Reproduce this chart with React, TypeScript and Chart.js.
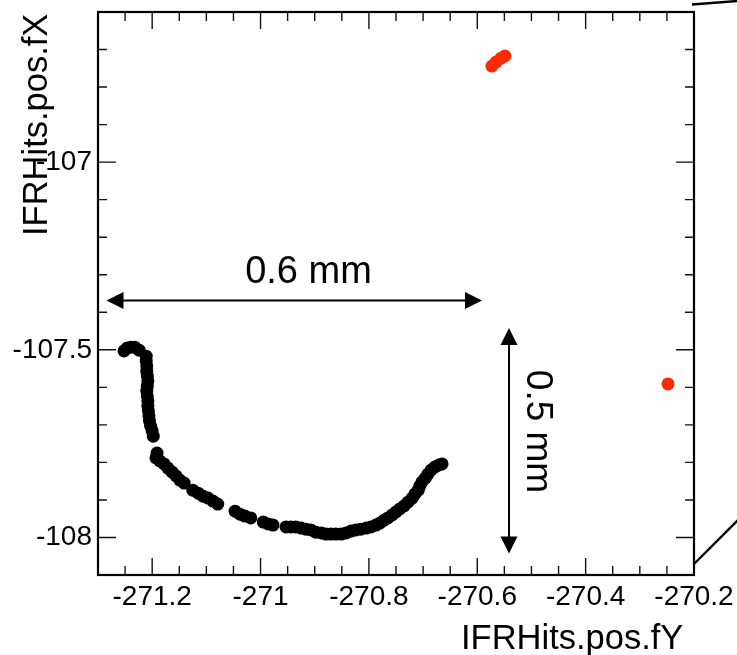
import React, { useEffect, useRef } from 'react';
import { Chart, registerables } from 'chart.js';

Chart.register(...registerables);

// ---- axis ranges & ticks ----
const X_MIN = -271.3;
const X_MAX = -270.2;
const Y_MIN = -108.1;
const Y_MAX = -106.6;
const xTickValues = [-271.2, -271.0, -270.8, -270.6, -270.4, -270.2];
const yTickValues = [-108.0, -107.5, -107.0];
const xMinorStep = 0.05;
const yMinorStep = 0.1;

const xTitle = 'IFRHits.pos.fY';
const yTitle = 'IFRHits.pos.fX';
const hLabel = '0.6 mm';
const vLabel = '0.5 mm';

// ---- data: black track ----
const blackX = [
  -271.252, -271.246, -271.239, -271.232, -271.224,
  -271.211, -271.211, -271.210, -271.210, -271.209, -271.208, -271.209, -271.210,
  -271.209, -271.208, -271.208, -271.207, -271.206, -271.205, -271.203, -271.200, -271.198,
  -271.191, -271.193, -271.186, -271.178, -271.171, -271.163, -271.156, -271.149, -271.141,
  -271.125, -271.115, -271.106, -271.097, -271.088, -271.079,
  -271.047, -271.038, -271.029, -271.018,
  -270.995, -270.986, -270.977,
  -270.953, -270.944, -270.935, -270.925, -270.916, -270.907, -270.898, -270.888, -270.879,
  -270.870, -270.861, -270.851, -270.842, -270.833, -270.824, -270.815, -270.805, -270.796,
  -270.787, -270.780, -270.772, -270.765, -270.757, -270.750, -270.743, -270.735, -270.728,
  -270.720, -270.715, -270.709, -270.706, -270.702, -270.696, -270.691, -270.685, -270.678,
  -270.671, -270.665,
];
const blackY = [
  -107.503, -107.495, -107.493, -107.493, -107.501,
  -107.517, -107.530, -107.543, -107.557, -107.570, -107.583, -107.597, -107.610,
  -107.623, -107.636, -107.650, -107.663, -107.676, -107.690, -107.703, -107.716, -107.730,
  -107.775, -107.788, -107.796, -107.804, -107.815, -107.826, -107.836, -107.847, -107.855,
  -107.874, -107.882, -107.890, -107.895, -107.903, -107.911,
  -107.930, -107.938, -107.943, -107.948,
  -107.959, -107.964, -107.967,
  -107.972, -107.972, -107.972, -107.975, -107.978, -107.980, -107.986, -107.988, -107.991,
  -107.991, -107.991, -107.991, -107.988, -107.983, -107.980, -107.978, -107.975, -107.972,
  -107.967, -107.962, -107.954, -107.948, -107.940, -107.932, -107.924, -107.916, -107.906,
  -107.895, -107.884, -107.874, -107.863, -107.852, -107.842, -107.831, -107.820, -107.812,
  -107.807, -107.804,
];

// ---- data: red hits ----
const redX = [-270.573, -270.565, -270.556, -270.549, -270.248];
const redY = [-106.744, -106.733, -106.723, -106.717, -107.591];

const FONT = "'Liberation Sans', Arial, Helvetica, sans-serif";

const toPts = (xs: number[], ys: number[]) => xs.map((x, i) => ({ x, y: ys[i] }));

const fmt = (v: number) => String(Number(v.toFixed(2)));

const framePlugin = {
  id: 'rootFrame',
  beforeDatasetsDraw(chart: any) {
    const { ctx, chartArea: a, scales } = chart;
    const xs = scales.x;
    const ys = scales.y;
    ctx.save();
    ctx.strokeStyle = '#111';
    ctx.lineWidth = 1.4;
    ctx.beginPath();
    const nX = Math.round((X_MAX - X_MIN) / xMinorStep);
    for (let i = 0; i <= nX; i++) {
      const v = X_MIN + i * xMinorStep;
      const major = xTickValues.some((t) => Math.abs(t - v) < 1e-6);
      const len = major ? 17 : 9;
      const px = xs.getPixelForValue(v);
      ctx.moveTo(px, a.bottom);
      ctx.lineTo(px, a.bottom - len);
      ctx.moveTo(px, a.top);
      ctx.lineTo(px, a.top + len);
    }
    const nY = Math.round((Y_MAX - Y_MIN) / yMinorStep);
    for (let i = 0; i <= nY; i++) {
      const v = Y_MIN + i * yMinorStep;
      const major = yTickValues.some((t) => Math.abs(t - v) < 1e-6);
      const len = major ? 18 : 9;
      const py = ys.getPixelForValue(v);
      ctx.moveTo(a.left, py);
      ctx.lineTo(a.left + len, py);
      ctx.moveTo(a.right, py);
      ctx.lineTo(a.right - len, py);
    }
    ctx.stroke();
    ctx.strokeStyle = '#000';
    ctx.lineWidth = 2.2;
    ctx.strokeRect(a.left, a.top, a.right - a.left, a.bottom - a.top);
    ctx.restore();
  },
  afterDraw(chart: any) {
    const { ctx } = chart;
    ctx.save();
    ctx.fillStyle = '#000';
    ctx.strokeStyle = '#000';

    // axis titles
    ctx.font = `34.5px ${FONT}`;
    ctx.textAlign = 'left';
    ctx.textBaseline = 'alphabetic';
    ctx.fillText(xTitle, 461, 649);
    ctx.save();
    ctx.translate(47, 236);
    ctx.rotate(-Math.PI / 2);
    ctx.fillText(yTitle, 0, 0);
    ctx.restore();

    // double arrows
    const arrowHead = (tx: number, ty: number, dx: number, dy: number) => {
      const L = 17, W = 8.5;
      const bx = tx - dx * L, by = ty - dy * L;
      ctx.beginPath();
      ctx.moveTo(tx, ty);
      ctx.lineTo(bx - dy * W, by + dx * W);
      ctx.lineTo(bx + dy * W, by - dx * W);
      ctx.closePath();
      ctx.fill();
    };
    ctx.lineWidth = 2;
    ctx.beginPath();
    ctx.moveTo(115, 300.5);
    ctx.lineTo(474, 300.5);
    ctx.stroke();
    arrowHead(106.5, 300.5, -1, 0);
    arrowHead(482, 300.5, 1, 0);

    ctx.beginPath();
    ctx.moveTo(509, 337);
    ctx.lineTo(509, 545);
    ctx.stroke();
    arrowHead(509, 328, 0, -1);
    arrowHead(509, 553.5, 0, 1);

    ctx.font = `38px ${FONT}`;
    ctx.textAlign = 'center';
    ctx.fillText(hLabel, 308.5, 283);

    ctx.save();
    ctx.translate(527, 431.5);
    ctx.rotate(Math.PI / 2);
    ctx.font = `37px ${FONT}`;
    ctx.fillText(vLabel, 0, 0);
    ctx.restore();

    // diagonal lines at right edge
    ctx.lineWidth = 2.4;
    ctx.beginPath();
    ctx.moveTo(692, 4.5);
    ctx.lineTo(737, 1);
    ctx.moveTo(694, 564);
    ctx.lineTo(738, 520);
    ctx.stroke();

    ctx.restore();
  },
};

export default function App() {
  const ref = useRef<HTMLCanvasElement | null>(null);

  useEffect(() => {
    if (!ref.current) return;
    const chart = new Chart(ref.current, {
      type: 'scatter',
      data: {
        datasets: [
          {
            label: 'track',
            data: toPts(blackX, blackY),
            backgroundColor: '#000',
            borderWidth: 0,
            pointRadius: 6.5,
            pointHoverRadius: 6.5,
          },
          {
            label: 'hits',
            data: toPts(redX, redY),
            backgroundColor: '#ff2a00',
            borderWidth: 0,
            pointRadius: 6.5,
            pointHoverRadius: 6.5,
          },
        ],
      },
      options: {
        animation: false,
        responsive: false,
        devicePixelRatio: 1,
        events: [],
        layout: { padding: { left: 0, right: 43, top: 12, bottom: 0 } },
        plugins: {
          legend: { display: false },
          tooltip: { enabled: false },
          title: { display: false },
        },
        scales: {
          x: {
            type: 'linear',
            position: 'bottom',
            min: X_MIN,
            max: X_MAX,
            grid: { display: false, drawTicks: false },
            border: { display: false },
            afterBuildTicks: (s: any) => {
              s.ticks = xTickValues.map((v) => ({ value: v }));
            },
            afterFit: (s: any) => {
              s.height = 80;
              s.paddingLeft = 0;
              s.paddingRight = 0;
            },
            ticks: {
              autoSkip: false,
              maxRotation: 0,
              minRotation: 0,
              padding: 5,
              color: '#000',
              font: { family: FONT, size: 28 },
              callback: (v: any) => fmt(Number(v)),
            },
          },
          y: {
            type: 'linear',
            position: 'left',
            min: Y_MIN,
            max: Y_MAX,
            grid: { display: false, drawTicks: false },
            border: { display: false },
            afterBuildTicks: (s: any) => {
              s.ticks = yTickValues.map((v) => ({ value: v }));
            },
            afterFit: (s: any) => {
              s.width = 98;
              s.paddingTop = 0;
              s.paddingBottom = 0;
            },
            ticks: {
              autoSkip: false,
              padding: 6,
              color: '#000',
              font: { family: FONT, size: 28 },
              callback: (v: any) => fmt(Number(v)),
            },
          },
        },
      },
      plugins: [framePlugin],
    } as any);
    return () => chart.destroy();
  }, []);

  return (
    <div style={{ position: 'absolute', left: 0, top: 0, width: 737, height: 655, background: '#fff' }}>
      <canvas ref={ref} width={737} height={655} style={{ display: 'block' }} />
    </div>
  );
}
